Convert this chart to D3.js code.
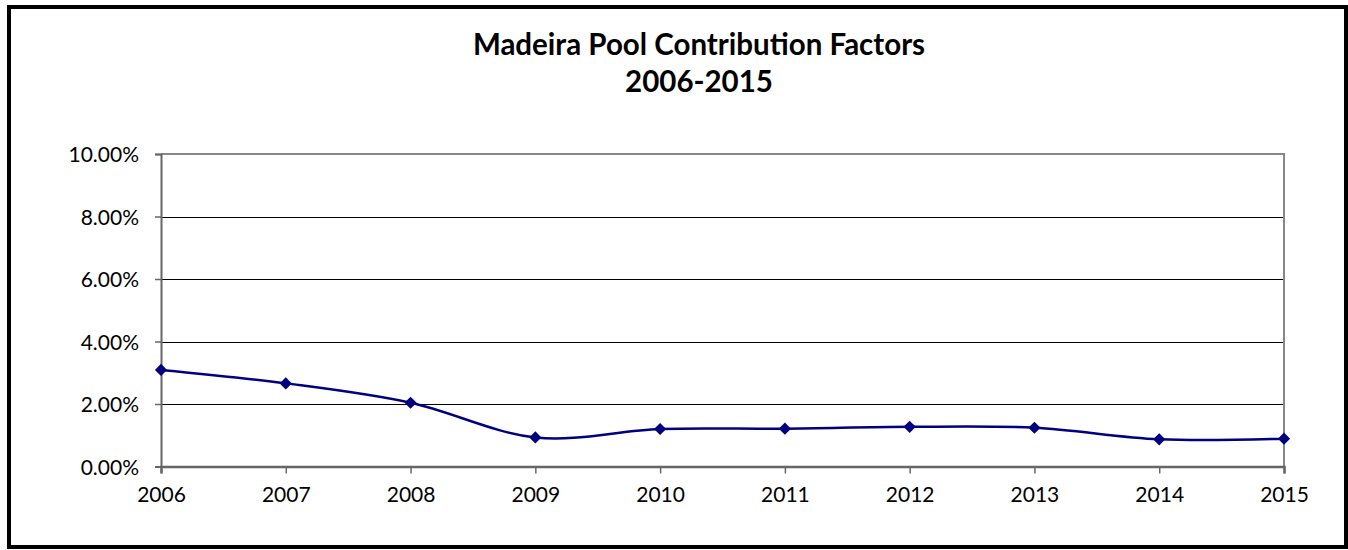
<!DOCTYPE html>
<html>
<head>
<meta charset="utf-8">
<script src="https://cdn.jsdelivr.net/npm/d3@7"></script>
<style>
  body { margin: 0; background: #fff; }
  svg text { font-family: Lato, "Open Sans", sans-serif; fill: #000; }
</style>
</head>
<body>
<svg id="chart" width="1348" height="550"></svg>
<script>
// chart data
const years = [2006, 2007, 2008, 2009, 2010, 2011, 2012, 2013, 2014, 2015];
const factors = [0.0309, 0.0266, 0.0204, 0.0093, 0.0120, 0.0121, 0.0127, 0.0124, 0.0087, 0.0089];
const yTicks = [0, 0.02, 0.04, 0.06, 0.08, 0.10];
const titleLines = ["Madeira Pool Contribution Factors", "2006-2015"];

const svg = d3.select("#chart");

// outer frame
svg.append("rect")
    .attr("x", 9).attr("y", 7)
    .attr("width", 1337).attr("height", 540)
    .attr("fill", "#fff")
    .attr("stroke", "#000")
    .attr("stroke-width", 4);

// plot area edges
const plotL = 161, plotR = 1284, plotT = 154, plotB = 466.5;

const x = d3.scalePoint().domain(years).range([plotL, plotR]);
const y = d3.scaleLinear().domain([0, 0.10]).range([plotB, plotT]);

// title
svg.append("g").selectAll("text")
    .data(titleLines)
    .join("text")
    .attr("x", 699)
    .attr("y", (d, i) => 55 + i * 37)
    .attr("text-anchor", "middle")
    .attr("font-size", 29.5)
    .attr("font-weight", "bold")
    .text(d => d);

// gridlines
svg.append("g").selectAll("line")
    .data(yTicks.filter(d => d > 0 && d < 0.10))
    .join("line")
    .attr("x1", plotL).attr("x2", plotR)
    .attr("y1", d => Math.round(y(d)) + 0.5).attr("y2", d => Math.round(y(d)) + 0.5)
    .attr("stroke", "#000")
    .attr("stroke-width", 1);

// plot frame top / right
svg.append("path")
    .attr("d", `M${plotL},${plotT}H${plotR}V${plotB}`)
    .attr("fill", "none")
    .attr("stroke", "#888")
    .attr("stroke-width", 2);

// y axis
const yAxis = svg.append("g")
    .attr("transform", `translate(${plotL},0)`)
    .call(d3.axisLeft(y).tickValues(yTicks).tickFormat(d3.format(".2%")).tickSize(6).tickPadding(16));
yAxis.select(".domain").attr("stroke", "#666").attr("stroke-width", 2);
yAxis.selectAll(".tick line").attr("stroke", "#666").attr("stroke-width", 1.5);
yAxis.selectAll(".tick text").attr("font-size", 21).attr("dy", "0.36em");

// x axis
const xAxis = svg.append("g")
    .attr("transform", `translate(0,${plotB})`)
    .call(d3.axisBottom(x).tickSize(7).tickPadding(14));
xAxis.select(".domain").attr("stroke", "#666").attr("stroke-width", 2.5);
xAxis.selectAll(".tick line").attr("stroke", "#666").attr("stroke-width", 1.5);
xAxis.selectAll(".tick text").attr("font-size", 21);

// series
const pts = years.map((yr, i) => [x(yr), y(factors[i])]);

svg.append("path")
    .datum(pts)
    .attr("d", d3.line().curve(d3.curveCatmullRom.alpha(0)))
    .attr("fill", "none")
    .attr("stroke", "#000080")
    .attr("stroke-width", 2.5);

svg.append("g").selectAll("path")
    .data(pts)
    .join("path")
    .attr("transform", d => `translate(${d[0]},${d[1]})`)
    .attr("d", d3.symbol(d3.symbolDiamond2, 95))
    .attr("fill", "#000080");
</script>
</body>
</html>
